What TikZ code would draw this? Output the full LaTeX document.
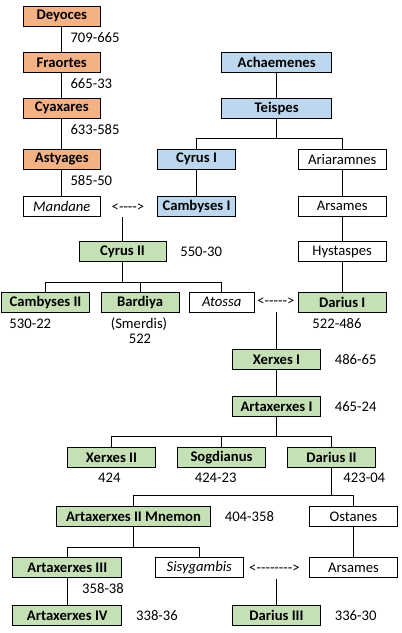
\documentclass[tikz,border=0pt]{standalone}
\usepackage{fontspec}
\setmainfont{Carlito}
\usepackage{tikz}
\usetikzlibrary{positioning}
\definecolor{medeorange}{HTML}{F4B183}
\definecolor{achblue}{HTML}{BDD7EE}
\definecolor{kinggreen}{HTML}{C5E0B4}
\newcommand{\famsize}{\fontsize{11}{13}\selectfont}
\begin{document}
\begin{tikzpicture}[x=0.75pt,y=-0.75pt,line width=0.75pt,
  box/.style={draw,rectangle,minimum width=66pt,minimum height=15pt,inner sep=0pt,font=\famsize},
  wd/.style={minimum width=#1*0.75pt},
  mede/.style={box,fill=medeorange,font=\famsize\bfseries},
  achae/.style={box,fill=achblue,font=\famsize\bfseries},
  king/.style={box,fill=kinggreen,font=\famsize\bfseries},
  kin/.style={box},
  wife/.style={box,font=\famsize\itshape},
  reign/.style={inner sep=0pt,font=\famsize},
  wed/.style={inner sep=4pt,font=\famsize}]
\useasboundingbox (0,0) rectangle (402,633);

% Medes
\node[mede,wd=77] (deyoces) at (61.8,16.3) {Deyoces};
\node[mede,wd=77] (fraortes) at (61.8,62.3) {Fraortes};
\node[mede,wd=77] (cyaxares) at (61.8,108.3) {Cyaxares};
\node[mede,wd=77] (astyages) at (61.8,159.3) {Astyages};
\node[wife,wd=77] (mandane) at (61.8,206.3) {Mandane};

% Achaemenids
\node[achae,wd=110] (achaemenes) at (276.7,62.3) {Achaemenes};
\node[achae,wd=110] (teispes) at (276.7,108.3) {Teispes};
\node[achae,wd=78] (cyrusI) at (196.5,159.3) {Cyrus I};
\node[achae,wd=78] (cambysesI) at (196.5,206.3) {Cambyses I};
\node[kin] (ariaramnes) at (342.2,159.3) {Ariaramnes};
\node[kin] (arsames) at (342.2,206.3) {Arsames};
\node[kin] (hystaspes) at (342.2,251.5) {Hystaspes};
\node[king] (dariusI) at (342.2,302.3) {Darius I};

\node[king,wd=87] (cyrusII) at (122.5,251.7) {Cyrus II};
\node[king] (cambysesII) at (45.5,302.3) {Cambyses II};
\node[king,wd=78] (bardiya) at (140,302.3) {Bardiya};
\node[wife,wd=65] (atossa) at (221.7,302.3) {Atossa};

\node[king] (xerxesI) at (276.5,359.3) {Xerxes I};
\node[king] (artaxerxesI) at (276.5,406.7) {Artaxerxes I};
\node[king] (xerxesII) at (111.5,457.3) {Xerxes II};
\node[king] (sogdianus) at (221.5,457.3) {Sogdianus};
\node[king] (dariusII) at (331.5,457.3) {Darius II};

\node[king,wd=154] (mnemon) at (133.5,516.5) {Artaxerxes II Mnemon};
\node[kin] (ostanes) at (353.5,516.5) {Ostanes};
\node[king,wd=109] (artaxerxesIII) at (67.3,567.5) {Artaxerxes III};
\node[wife] (sisygambis) at (199.3,567.5) {Sisygambis};
\node[kin] (arsamesB) at (353.5,567.5) {Arsames};
\node[king,wd=109] (artaxerxesIV) at (67.3,615.7) {Artaxerxes IV};
\node[king] (dariusIII) at (276.5,615.7) {Darius III};

% marriages
\node[wed] (wed1) at (128,207.3) {<-{}-{}-{}->};
\node[wed] (wed2) at (275.8,302) {<-{}-{}-{}-{}->};
\node[wed] (wed3) at (274.5,569) {<-{}-{}-{}-{}-{}-{}-{}->};

% reigns
\node[reign,anchor=west] (deyocesYrs) at (70,37.3) {709-665};
\node[reign,anchor=west] (fraortesYrs) at (70,83.3) {665-33};
\node[reign,anchor=west] (cyaxaresYrs) at (70,129.3) {633-585};
\node[reign,anchor=west] (astyagesYrs) at (70,180.3) {585-50};
\node[reign,right=10pt of cyrusII] (cyrusIIYrs) {550-30};
\node[reign,anchor=west] (cambysesIIYrs) at (9,324) {530-22};
\node[reign] (smerdis) at (139,324.3) {(Smerdis)};
\node[reign] (bardiyaYrs) at (140,338.3) {522};
\node[reign] (dariusIYrs) at (337,323.3) {522-486};
\node[reign,right=10pt of xerxesI] (xerxesIYrs) {486-65};
\node[reign,right=10pt of artaxerxesI] (artaxerxesIYrs) {465-24};
\node[reign] (xerxesIIYrs) at (109.3,478) {424};
\node[reign] (sogdianusYrs) at (215.7,478) {424-23};
\node[reign] (dariusIIYrs) at (364.3,478) {423-04};
\node[reign,right=10pt of mnemon] (mnemonYrs) {404-358};
\node[reign,anchor=west] (artaxerxesIIIYrs) at (81.7,589) {358-38};
\node[reign,right=10pt of artaxerxesIV] (artaxerxesIVYrs) {338-36};
\node[reign,right=10pt of dariusIII] (dariusIIIYrs) {336-30};

\draw (deyoces) -- (fraortes);
\draw (fraortes) -- (cyaxares);
\draw (cyaxares) -- (astyages);
\draw (astyages) -- (mandane);
\draw (achaemenes) -- (teispes);
\draw (teispes.south) -- ++(0,20) -| (cyrusI.north);
\draw (teispes.south) -- ++(0,20) -| (ariaramnes.north);
\draw (cyrusI) -- (cambysesI);
\draw (ariaramnes) -- (arsames);
\draw (arsames) -- (hystaspes);
\draw (hystaspes) -- (dariusI);
\draw (cyrusII) -- (cyrusII |- wed1.south);
\draw (cyrusII.south) -- ++(0,20) -| (cambysesII.north);
\draw (cyrusII.south) -- ++(0,20) -| (bardiya.north);
\draw (cyrusII.south) -- ++(0,20) -| (atossa.north);
\draw (xerxesI) -- (xerxesI |- wed2.south);
\draw (xerxesI) -- (artaxerxesI);
\draw (artaxerxesI.south) -- ++(0,19.3) -| (xerxesII.north);
\draw (artaxerxesI.south) -- ++(0,19.3) -| (sogdianus.north);
\draw (artaxerxesI.south) -- ++(0,19.3) -| (dariusII.north);
\draw (dariusII.south) -- ++(0,27.7) -| (mnemon.north);
\draw (dariusII.south) -- ++(0,27.7) -| (ostanes.north);
\draw (mnemon.south) -- ++(0,20.6) -| (artaxerxesIII.north);
\draw (mnemon.south) -- ++(0,20.6) -| (sisygambis.north);
\draw (ostanes) -- (arsamesB);
\draw (artaxerxesIII) -- (artaxerxesIV);
\draw (dariusIII) -- (dariusIII |- wed3.south);
\end{tikzpicture}
\end{document}
